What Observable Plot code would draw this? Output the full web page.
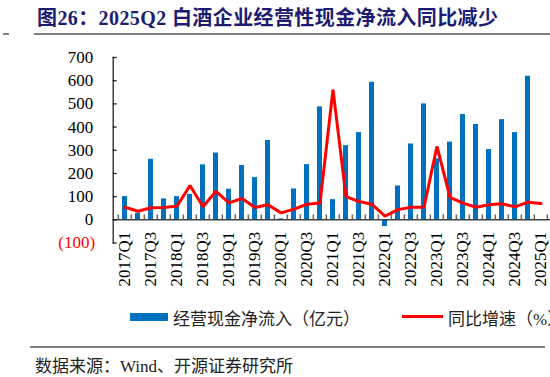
<!DOCTYPE html>
<html><head><meta charset="utf-8">
<script src="https://cdn.jsdelivr.net/npm/d3@7"></script>
<script src="https://cdn.jsdelivr.net/npm/@observablehq/plot@0.6"></script>
<style>
html,body{margin:0;padding:0;width:550px;height:377px;overflow:hidden;background:#fff;}
#wrap{position:relative;width:550px;height:377px;overflow:hidden;}
#chart{position:absolute;left:0;top:0;width:566px;}
#chart svg{max-width:none !important;}
#title{position:absolute;left:37px;top:2px;font-family:"Liberation Serif","Noto Sans CJK SC",serif;font-weight:bold;font-size:20px;letter-spacing:0.4px;color:#1c1c72;white-space:nowrap;}
.dash{position:absolute;left:3px;top:33px;width:6px;height:2px;background:#808080;}
.titleline{position:absolute;left:34px;top:33px;width:520px;height:2px;background:#808080;}
#legend{position:absolute;left:0;top:305px;width:600px;height:22px;font-family:"Liberation Serif","Noto Sans CJK SC",serif;font-size:17px;color:#222;white-space:nowrap;}
.sw1{position:absolute;left:130px;top:8px;width:38px;height:8px;background:#0070C0;}
.t1{position:absolute;left:173px;top:0px;}
.sw2{position:absolute;left:402px;top:10px;width:41px;height:3px;background:#FF0000;}
.t2{position:absolute;left:448px;top:0px;}
.sep{position:absolute;left:30px;top:346px;width:515px;height:1.5px;background:#7f7f7f;}
#source{position:absolute;left:35px;top:352px;font-family:"Liberation Serif","Noto Sans CJK SC",serif;font-size:17px;color:#222;white-space:nowrap;}
</style></head><body>
<div id="wrap">
  <div id="title">图26：2025Q2 白酒企业经营性现金净流入同比减少</div>
  <div class="dash"></div><div class="titleline"></div>
  <div id="chart"></div>
  <div id="legend">
    <div class="sw1"></div><span class="t1">经营现金净流入（亿元）</span>
    <div class="sw2"></div><span class="t2">同比增速（%）</span>
  </div>
  <div class="sep"></div>
  <div id="source">数据来源：Wind、开源证券研究所</div>
</div>
<script>
const quarters = ["2017Q1","2017Q2","2017Q3","2017Q4","2018Q1","2018Q2","2018Q3","2018Q4",
  "2019Q1","2019Q2","2019Q3","2019Q4","2020Q1","2020Q2","2020Q3","2020Q4",
  "2021Q1","2021Q2","2021Q3","2021Q4","2022Q1","2022Q2","2022Q3","2022Q4",
  "2023Q1","2023Q2","2023Q3","2023Q4","2024Q1","2024Q2","2024Q3","2024Q4",
  "2025Q1","2025Q2"];
const cashFlow = [100,28,261,90,100,110,237,288,132,234,182,342,4,133,238,487,
  87,320,376,593,-29,146,327,500,263,335,454,411,303,432,376,619,null,null];
const yoyGrowth = [54,37,52,53,59,148,56,123,73,92,53,65,30,46,67,72,
  561,100,79,67,16,44,54,54,317,97,72,54,65,69,56,76,70,null];
const yTicks = [0,100,200,300,400,500,600,700];
const yNegTicks = [-100];
const xLabels = quarters.filter((q, i) => i % 2 === 0);

const data = quarters.map((q, i) => ({q, cash: cashFlow[i], yoy: yoyGrowth[i]}));

const width = 566, marginLeft = 112.7, marginRight = 0;
const plotW = width - marginLeft - marginRight;
const step = plotW / quarters.length;

const chart = Plot.plot({
  width, height: 300,
  marginLeft, marginRight, marginTop: 57, marginBottom: 57.5,
  style: {fontFamily: "Liberation Serif, serif", fontSize: "17px", color: "#000", background: "transparent", maxWidth: "none"},
  x: {domain: quarters, paddingInner: 0.62, paddingOuter: 0.31, axis: null},
  y: {domain: [-100, 700], axis: null},
  marks: [
    Plot.barY(data.filter(d => d.cash != null), {x: "q", y: "cash", fill: "#0070C0"}),
    Plot.ruleY([0], {stroke: "#404040", strokeWidth: 1.5}),
    Plot.ruleX(quarters, {x: d => d, y1: 0, y2: 21, dx: -step / 2, stroke: "#666", strokeWidth: 1.5}),
    Plot.frame({anchor: "left", stroke: "#222", strokeWidth: 1.3}),
    Plot.tickY([...yNegTicks, ...yTicks], {y: d => d, insetRight: plotW - 4, stroke: "#222", strokeWidth: 1.3}),
    Plot.axisY(yTicks, {tickSize: 0, tickPadding: 20, fill: "#000", fontSize: 17}),
    Plot.axisY(yNegTicks, {tickSize: 0, tickPadding: 18, fill: "#FF0000", fontSize: 17, tickFormat: d => `(${-d})`}),
    Plot.line(data, {x: "q", y: "yoy", stroke: "#FF0000", strokeWidth: 3, strokeLinejoin: "miter"}),
    Plot.text(xLabels, {x: d => d, y: 0, dy: 12, rotate: -90, textAnchor: "end", fill: "#000", fontSize: 17})
  ]
});
document.getElementById("chart").appendChild(chart);
</script>
</body></html>
